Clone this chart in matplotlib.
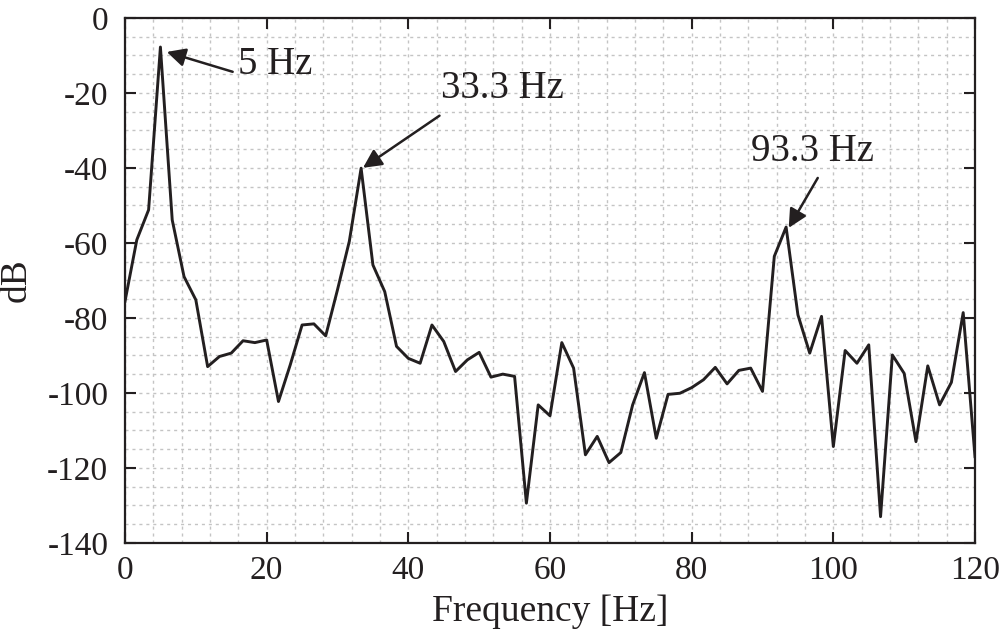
import numpy as np
import matplotlib
matplotlib.use('Agg')
from matplotlib import pyplot as plt
from matplotlib.ticker import MultipleLocator

# Spectrum values (dB), bins every 5/3 Hz from 0 to 120 Hz
df_hz = 5.0 / 3.0
db = [-75.6, -59.2, -51.2, -7.8, -53.9, -69.0, -75.2, -93.0, -90.3, -89.4,
      -86.1, -86.6, -85.9, -102.3, -92.5, -81.9, -81.6, -84.8, -72.5, -59.6,
      -40.1, -65.9, -73.0, -87.6, -90.8, -92.1, -81.9, -86.3, -94.3, -91.2,
      -89.2, -95.8, -95.0, -95.6, -129.4, -103.2, -106.1, -86.6, -93.4, -116.5,
      -111.6, -118.6, -115.9, -103.2, -94.6, -112.1, -100.4, -100.1, -98.6, -96.5,
      -93.2, -97.6, -94.0, -93.4, -99.6, -63.6, -55.8, -79.2, -89.4, -79.6,
      -114.3, -88.7, -92.1, -87.2, -133.0, -89.9, -94.8, -113.0, -92.8, -103.2,
      -97.2, -78.6, -117.0]
freq = np.arange(len(db)) * df_hz

# annotations: label, text position, arrow tail, arrow tip
peak_labels = ['5 Hz', '33.3 Hz', '93.3 Hz']
text_xy = [(15.9, -12.5), (44.6, -18.8), (88.4, -35.6)]
tail_xy = [(15.2, -14.4), (44.4, -26.1), (97.8, -42.7)]
tip_xy = [(5.9, -9.1), (33.6, -40.0), (93.7, -56.0)]

plt.rcParams['font.family'] = ['Liberation Serif', 'DejaVu Serif']
plt.rcParams['axes.unicode_minus'] = False

fig = plt.figure(figsize=(10, 6.35), dpi=100)
ax = fig.add_axes([0.125, 0.145, 0.85, 0.827])

ax.plot(freq, db, color='#231f20', linewidth=2.1)

ax.set_xlim(0, 120)
ax.set_ylim(-140, 0)
ax.xaxis.set_major_locator(MultipleLocator(20))
ax.xaxis.set_minor_locator(MultipleLocator(4))
ax.yaxis.set_major_locator(MultipleLocator(20))
ax.yaxis.set_minor_locator(MultipleLocator(5))

ax.grid(which='both', color='#c4c4c4', linestyle=(0, (2.2, 2.8)), linewidth=1.0)
ax.set_axisbelow(True)
ax.tick_params(which='major', direction='in', length=8, width=1.5,
               top=True, right=True, labelsize=24, colors='#231f20')
ax.tick_params(axis='x', which='major', pad=9)
ax.tick_params(axis='y', which='major', pad=12)
ax.tick_params(which='minor', length=0, top=True, right=True)
for s in ax.spines.values():
    s.set_linewidth(1.6)
    s.set_color('#231f20')

ax.set_xlabel('Frequency [Hz]', fontsize=27, labelpad=6, color='#231f20')
ax.set_ylabel('dB', fontsize=27, labelpad=10, color='#231f20')

for lab, txy, a, b in zip(peak_labels, text_xy, tail_xy, tip_xy):
    ax.text(txy[0], txy[1], lab, fontsize=28, ha='left', va='center',
            color='#231f20')
    ax.annotate('', xy=b, xytext=a,
                arrowprops=dict(arrowstyle='-|>', color='#231f20', lw=1.8,
                                mutation_scale=28, shrinkA=0, shrinkB=0))

fig.savefig('out.png', dpi=100)
